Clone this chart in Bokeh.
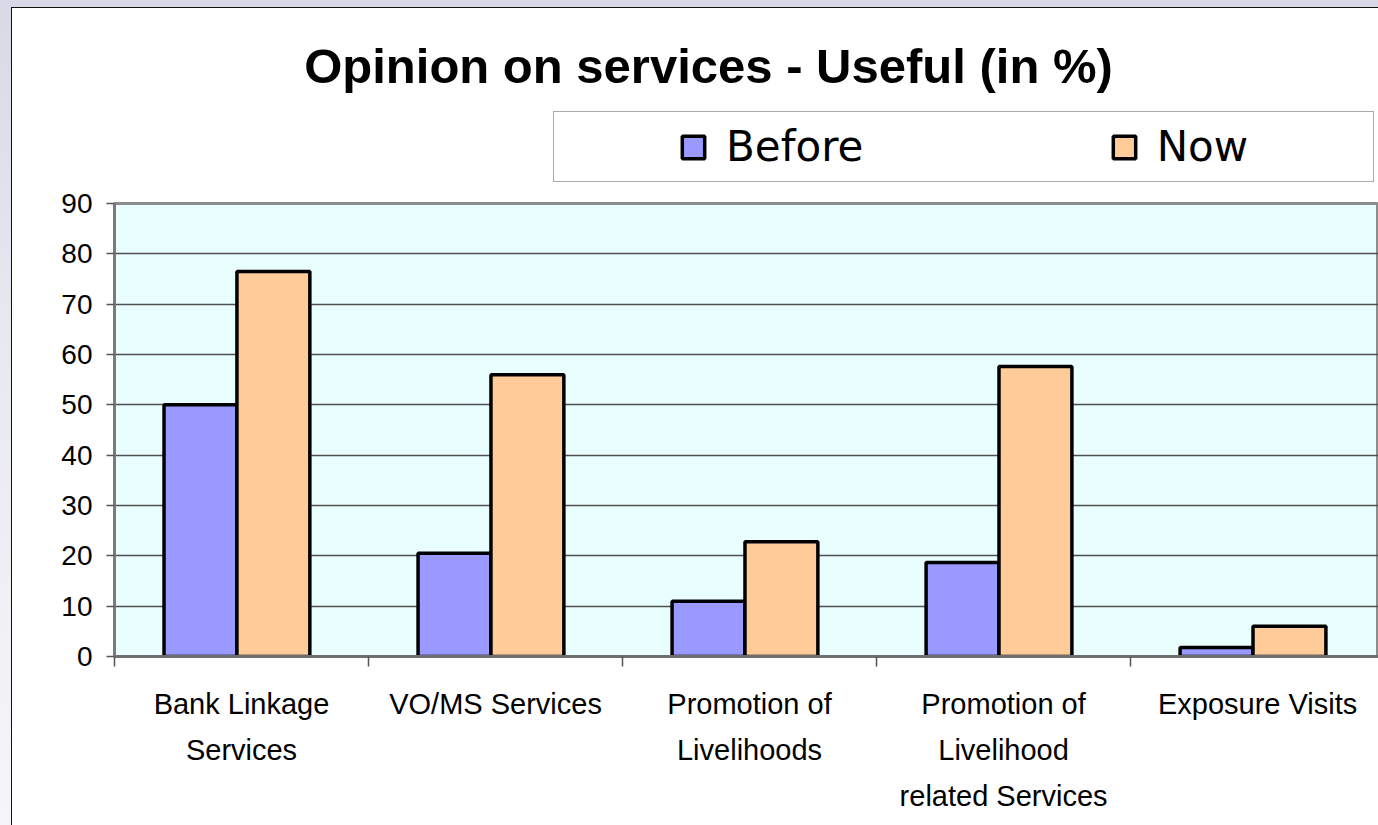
from bokeh.plotting import figure
from bokeh.models import (Range1d, FixedTicker, Legend, LegendItem, Label,
                          ColumnDataSource)
from bokeh.layouts import column
from bokeh.embed import file_html
from bokeh.resources import INLINE

# ---- data ----
categories = ["Bank Linkage\nServices", "VO/MS Services", "Promotion of\nLivelihoods",
              "Promotion of\nLivelihood\nrelated Services", "Exposure Visits"]
before = [50.0, 20.5, 11.0, 18.7, 1.8]
now = [76.5, 56.0, 22.8, 57.6, 6.0]
series_names = ["Before", "Now"]
y_ticks = [0, 10, 20, 30, 40, 50, 60, 70, 80, 90]
title_text = "Opinion on services - Useful (in %)"

# ---- geometry / style ----
W = 1366
LEFT = 102
TOP_H = 179
MAIN_H = 638
bar_w = 0.287
offset = 0.1435
group_shift = -0.018
before_color = "#9999ff"
now_color = "#ffcc99"
NB = "\u00a0"

centers = [i + 0.5 for i in range(len(categories))]
boundaries = [float(i) for i in range(len(categories) + 1)]

src = ColumnDataSource(dict(
    xb=[c + group_shift - offset for c in centers],
    xn=[c + group_shift + offset for c in centers],
    before=before, now=now))

# ================= header (title + legend) =================
top = figure(width=W, height=TOP_H, output_backend="svg", toolbar_location=None,
             x_range=Range1d(LEFT, W), y_range=Range1d(0, TOP_H),
             x_axis_location=None, y_axis_location=None,
             min_border_left=LEFT, min_border_right=0, min_border_top=0,
             min_border_bottom=0)
top.grid.visible = False
top.outline_line_color = None
top.background_fill_color = "white"
top.border_fill_color = "white"

top.add_layout(Label(x=696, y=TOP_H - 57, text=title_text, text_align="center",
                     text_baseline="alphabetic", text_font="Liberation Sans",
                     text_font_style="bold", text_font_size="49px",
                     text_color="black"))

# legend proxies (hidden renderers; only their legend swatches are shown)
lb = top.vbar(x="xb", top="before", width=bar_w, source=src, visible=False,
              fill_color=before_color, line_color="black", line_width=3.5)
ln = top.vbar(x="xn", top="now", width=bar_w, source=src, visible=False,
              fill_color=now_color, line_color="black", line_width=3.5)
ld = top.vbar(x="xb", top="before", width=bar_w, source=src, visible=False,
              fill_alpha=0, line_alpha=0)

leg = Legend(items=[LegendItem(label=NB, renderers=[ld]),
                    LegendItem(label=series_names[0] + NB * 18, renderers=[lb]),
                    LegendItem(label=series_names[1] + NB * 8 + "\u2009", renderers=[ln])],
             location=(541 - LEFT, TOP_H - 174), orientation="horizontal",
             click_policy="none", inactive_fill_alpha=0,
             border_line_color="#555555", border_line_width=1.5,
             background_fill_color="white", background_fill_alpha=1,
             padding=10, margin=0, spacing=6,
             glyph_width=28, glyph_height=28,
             label_standoff=19, label_width=62, label_height=48,
             label_text_font="DejaVu Sans", label_text_font_size="42px",
             label_text_color="black", label_text_baseline="middle")
top.add_layout(leg)

# ================= main chart =================
p = figure(width=W, height=MAIN_H, output_backend="svg", toolbar_location=None,
           x_range=Range1d(0, 4.976), y_range=Range1d(0, 90),
           min_border_left=LEFT, min_border_top=16, min_border_bottom=169,
           min_border_right=0)
p.border_fill_color = "white"
p.background_fill_color = "#e9fefe"
p.outline_line_color = "#8c8c8c"
p.outline_line_width = 3

rb = p.vbar(x="xb", top="before", width=bar_w, source=src,
            fill_color=before_color, line_color="black", line_width=3.5)
rn = p.vbar(x="xn", top="now", width=bar_w, source=src,
            fill_color=now_color, line_color="black", line_width=3.5)

p.xgrid.grid_line_color = None
p.ygrid.ticker = FixedTicker(ticks=y_ticks)
p.ygrid.grid_line_color = "#505050"
p.ygrid.grid_line_width = 1.5

ya = p.yaxis[0]
ya.ticker = FixedTicker(ticks=y_ticks)
ya.axis_line_color = "#7a7a7a"
ya.axis_line_width = 3
ya.major_tick_line_color = "#555555"
ya.major_tick_line_width = 1.5
ya.major_tick_out = 8
ya.major_tick_in = 0
ya.minor_tick_line_color = None
ya.major_label_text_font = "Liberation Sans"
ya.major_label_text_font_size = "28px"
ya.major_label_text_color = "black"
ya.major_label_standoff = 14

xa = p.xaxis[0]
xa.ticker = FixedTicker(ticks=centers, minor_ticks=boundaries)
xa.major_label_overrides = {c: lab for c, lab in zip(centers, categories)}
xa.axis_line_color = "#6e6e6e"
xa.axis_line_width = 3
xa.major_tick_line_color = None
xa.minor_tick_line_color = "#555555"
xa.minor_tick_line_width = 1.5
xa.minor_tick_out = 10
xa.minor_tick_in = 0
xa.major_label_text_font = "Liberation Sans"
xa.major_label_text_font_size = "29px"
xa.major_label_text_color = "black"
xa.major_label_text_line_height = 1.45
xa.major_label_standoff = 21

inner = column(top, p, spacing=0, styles={
    "border-left": "1px solid #111", "border-top": "1px solid #111",
    "background": "white"})
layout = column(inner, styles={
    "background": "linear-gradient(180deg, #d8d9e6 0%, #e9eaf1 45%, #f6f6f9 100%)",
    "padding-left": "11px", "padding-top": "7px"})

open("out.html", "w").write(file_html(layout, INLINE))
